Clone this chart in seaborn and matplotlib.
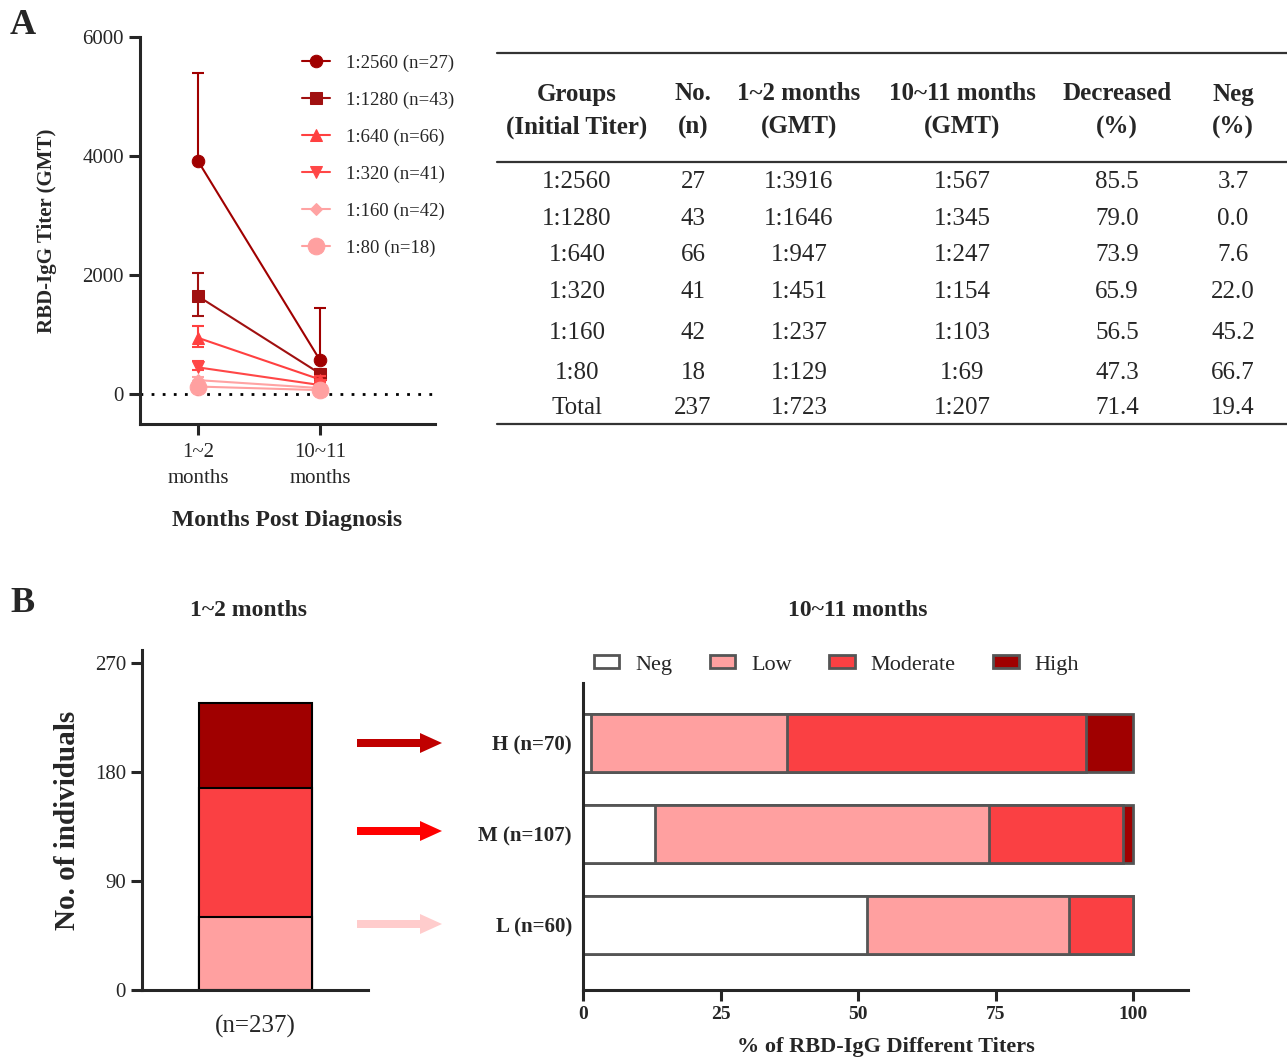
import matplotlib
matplotlib.use("Agg")
import matplotlib.pyplot as plt
from matplotlib.patches import FancyArrow, Patch
import numpy as np
import pandas as pd
import seaborn as sns

# ---- data -------------------------------------------------------------
groups = ["1:2560", "1:1280", "1:640", "1:320", "1:160", "1:80"]
group_n = [27, 43, 66, 41, 42, 18]
gmt_early = [3916, 1646, 947, 451, 237, 129]
gmt_late = [567, 345, 247, 154, 103, 69]
err_up_early = [5400, 2030, 1150, 560, 290, 160]
err_lo_early = [3916, 1320, 790, 400, 200, 105]
err_up_late = [1450, 420, 300, 180, 120, 85]
err_lo_late = [567, 280, 200, 130, 90, 55]
time_labels = ["1~2\nmonths", "10~11\nmonths"]

table_header = [("Groups", "(Initial Titer)"), ("No.", "(n)"), ("1~2 months", "(GMT)"),
                ("10~11 months", "(GMT)"), ("Decreased", "(%)"), ("Neg", "(%)")]
table_rows = [
    ["1:2560", "27", "1:3916", "1:567", "85.5", "3.7"],
    ["1:1280", "43", "1:1646", "1:345", "79.0", "0.0"],
    ["1:640", "66", "1:947", "1:247", "73.9", "7.6"],
    ["1:320", "41", "1:451", "1:154", "65.9", "22.0"],
    ["1:160", "42", "1:237", "1:103", "56.5", "45.2"],
    ["1:80", "18", "1:129", "1:69", "47.3", "66.7"],
    ["Total", "237", "1:723", "1:207", "71.4", "19.4"],
]

levels = ["Neg", "Low", "Moderate", "High"]
initial_groups = ["H (n=70)", "M (n=107)", "L (n=60)"]
initial_counts = [70, 107, 60]  # High, Moderate, Low at 1~2 months
late_counts = {  # counts at 10~11 months per initial group
    "Neg": [1, 14, 31],
    "Low": [25, 65, 22],
    "Moderate": [38, 26, 7],
    "High": [6, 2, 0],
}

# ---- style ------------------------------------------------------------
sns.set_style("ticks")
plt.rcParams["font.family"] = ["Liberation Serif", "DejaVu Serif"]
plt.rcParams["axes.linewidth"] = 2.2
plt.rcParams["xtick.major.width"] = 2.2
plt.rcParams["ytick.major.width"] = 2.2

line_colors = ["#A00000", "#A01010", "#FF4040", "#FF4747", "#FFA3A3", "#FFA0A0"]
markers = ["o", "s", "^", "v", "D", "o"]
msizes = [9, 9, 9, 9, 6, 12]
level_colors = {"Neg": "#FFFFFF", "Low": "#FFA0A0", "Moderate": "#FA4043", "High": "#A00000"}

W, H = 1287, 1058
fig = plt.figure(figsize=(W / 100, H / 100), dpi=100)


def px_axes(left, top, right, bottom):
    return fig.add_axes([left / W, 1 - bottom / H, (right - left) / W, (bottom - top) / H])


# ---- panel A: line plot -----------------------------------------------
ax1 = px_axes(140, 37, 435, 424)
ax1.axhline(0, color="black", ls=(0, (1, 3)), lw=2)
cap = 0.05
for i, g in enumerate(groups):
    df = pd.DataFrame({"t": [0, 1], "gmt": [gmt_early[i], gmt_late[i]],
                       "lo": [err_lo_early[i], err_lo_late[i]],
                       "hi": [err_up_early[i], err_up_late[i]]})
    # error whiskers with caps (a lower cap only where a lower whisker exists)
    ax1.vlines(df["t"], df["lo"], df["hi"], color=line_colors[i], lw=1.5)
    ax1.hlines(df["hi"], df["t"] - cap, df["t"] + cap, color=line_colors[i], lw=1.5)
    low = df[df["lo"] < df["gmt"]]
    ax1.hlines(low["lo"], low["t"] - cap, low["t"] + cap, color=line_colors[i], lw=1.5)
    sns.lineplot(data=df, x="t", y="gmt", ax=ax1, color=line_colors[i], marker=markers[i],
                 markersize=msizes[i], markeredgecolor=line_colors[i], lw=1.5,
                 label=f"{g} (n={group_n[i]})")
ax1.set_xticks([0, 1])
ax1.set_xlim(-0.475, 1.94)
ax1.set_ylim(-500, 6000)
ax1.set_yticks([0, 2000, 4000, 6000])
ax1.set_xticklabels(time_labels, fontsize=15, linespacing=1.45)
ax1.tick_params(axis="both", labelsize=15, length=8)
ax1.tick_params(axis="x", pad=6)
ax1.set_xlabel("Months Post Diagnosis", fontsize=17, fontweight="bold", labelpad=16)
ax1.set_ylabel("RBD-IgG Titer (GMT)", fontsize=15, fontweight="bold", labelpad=18)
sns.despine(ax=ax1)
ax1.legend(loc="upper left", bbox_to_anchor=(294 / W, 1 - 47 / H), bbox_transform=fig.transFigure,
           frameon=False, fontsize=13.5, handlelength=1.5, labelspacing=1.05, handletextpad=0.9,
           borderaxespad=0)

# ---- overlay for table, arrows and panel letters ----------------------
ov = fig.add_axes([0, 0, 1, 1], zorder=10)
ov.set_xlim(0, W)
ov.set_ylim(H, 0)
ov.axis("off")
ov.patch.set_alpha(0)

col_x = [577, 693, 799, 962, 1117, 1233]
for x, (h1, h2) in zip(col_x, table_header):
    ov.text(x, 94, h1, ha="center", va="center", fontsize=18, fontweight="bold")
    ov.text(x, 127, h2, ha="center", va="center", fontsize=18, fontweight="bold")
row_y = [182, 219, 255, 292, 333, 373, 408]
for y, row in zip(row_y, table_rows):
    for x, val in zip(col_x, row):
        ov.text(x, y, val, ha="center", va="center", fontsize=18)
for y in (53, 162, 424):
    ov.plot([497, 1287], [y, y], color="#333333", lw=1.6)

ov.text(10, 25, "A", fontsize=26, fontweight="bold", va="center")
ov.text(10, 603, "B", fontsize=26, fontweight="bold", va="center")
ov.text(248, 611, "1~2 months", fontsize=17, fontweight="bold", ha="center", va="center")
ov.text(858, 611, "10~11 months", fontsize=17, fontweight="bold", ha="center", va="center")

for y, c in zip([743, 831, 924], ["#C00000", "#FF0000", "#FFCCCC"]):
    ov.add_patch(FancyArrow(357, y, 85, 0, width=8, head_width=20, head_length=22,
                            length_includes_head=True, color=c, lw=0))

# ---- panel B left: stacked column ------------------------------------
ax2 = px_axes(142, 650, 368, 990)
cum = np.cumsum(initial_counts[::-1])  # Low, Low+Mod, total
bar_cols = ["#FFA0A0", "#FA4043", "#A00000"]
for top, c in zip(cum[::-1], bar_cols[::-1]):
    sns.barplot(x=["(n=237)"], y=[top], ax=ax2, color=c, width=0.5, edgecolor="black",
                linewidth=1.5, saturation=1)
ax2.set_xlim(-0.5, 0.5)
ax2.set_ylim(0, 281)
ax2.set_yticks([0, 90, 180, 270])
ax2.tick_params(axis="y", labelsize=15, length=8)
ax2.tick_params(axis="x", labelsize=18, length=0, pad=18)
ax2.set_ylabel("No. of individuals", fontsize=21, fontweight="bold", labelpad=10)
ax2.set_xlabel("")
sns.despine(ax=ax2)

# ---- panel B right: horizontal stacked bars ----------------------------
ax3 = px_axes(583, 683, 1188, 990)
totals = np.array(initial_counts)
pct = {lv: np.array(late_counts[lv]) / totals * 100 for lv in levels}
cum_pct = np.cumsum([pct[lv] for lv in levels], axis=0)
for k in range(len(levels) - 1, -1, -1):
    sns.barplot(x=cum_pct[k], y=initial_groups, ax=ax3, orient="h", color=level_colors[levels[k]],
                width=0.64, edgecolor="#555555", linewidth=2, saturation=1)
ax3.set_xlim(0, 110)
ax3.set_ylim(2.71, -0.66)
ax3.set_xticks([0, 25, 50, 75, 100])
ax3.tick_params(axis="x", labelsize=14, length=8)
ax3.tick_params(axis="y", labelsize=15, length=0, pad=8)
for lab in ax3.get_xticklabels() + ax3.get_yticklabels():
    lab.set_fontweight("bold")
ax3.set_xlabel("% of RBD-IgG Different Titers", fontsize=16, fontweight="bold", labelpad=10)
ax3.set_ylabel("")
sns.despine(ax=ax3)
handles = [Patch(facecolor=level_colors[lv], edgecolor="#555555", lw=2, label=lv) for lv in levels]
ax3.legend(handles=handles, loc="center left", bbox_to_anchor=(585 / W, 1 - 665 / H),
           bbox_transform=fig.transFigure, ncol=4, frameon=False, fontsize=16,
           handlelength=1.15, handleheight=0.5, columnspacing=1.7, handletextpad=0.7, borderaxespad=0)

fig.savefig("out.png", dpi=100)
